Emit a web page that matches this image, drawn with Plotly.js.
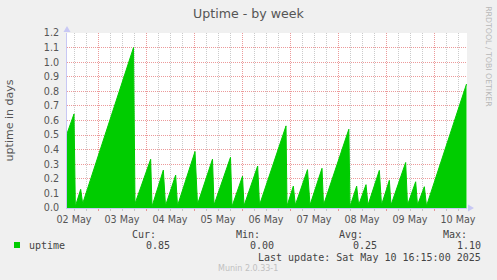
<!DOCTYPE html>
<html>
<head>
<meta charset="utf-8">
<script src="https://cdn.plot.ly/plotly-3.0.1.min.js"></script>
<style>html,body{margin:0;padding:0;background:#f0f0f0;}#chart{width:497px;height:280px;}</style>
</head>
<body>
<div id="chart"></div>
<script>
// Uptime samples (time, days)
const times = [
  '2025-05-02 08:30','2025-05-02 12:00','2025-05-02 12:40','2025-05-02 15:20','2025-05-02 16:20',
  '2025-05-03 17:45','2025-05-03 18:30','2025-05-04 02:20','2025-05-04 03:00','2025-05-04 08:40',
  '2025-05-04 09:45','2025-05-04 14:50','2025-05-04 15:45','2025-05-05 00:30','2025-05-05 01:45',
  '2025-05-05 09:15','2025-05-05 10:00','2025-05-05 18:15','2025-05-05 19:00','2025-05-06 00:15',
  '2025-05-06 01:00','2025-05-06 07:50','2025-05-06 08:45','2025-05-06 22:00','2025-05-06 22:30',
  '2025-05-07 01:40','2025-05-07 02:40','2025-05-07 08:45','2025-05-07 10:00','2025-05-07 16:00',
  '2025-05-07 16:45','2025-05-08 05:25','2025-05-08 06:00','2025-05-08 09:20','2025-05-08 10:20',
  '2025-05-08 14:00','2025-05-08 15:00','2025-05-08 20:40','2025-05-08 21:45','2025-05-09 01:40',
  '2025-05-09 02:30','2025-05-09 09:50','2025-05-09 10:45','2025-05-09 14:50','2025-05-09 15:45',
  '2025-05-09 19:10','2025-05-09 20:15','2025-05-10 16:15'
];
const uptime = [
  0.51,0.645,0.01,0.128,0.03,
  1.10,0.03,0.334,0.01,0.26,
  0.015,0.226,0.015,0.387,0.025,
  0.335,0.02,0.348,0.01,0.218,
  0.015,0.288,0.02,0.563,0.014,
  0.15,0.02,0.263,0.02,0.272,
  0.02,0.54,0.01,0.15,0.02,
  0.16,0.02,0.258,0.02,0.19,
  0.02,0.312,0.02,0.18,0.02,
  0.146,0.014,0.85
];
const seriesName = 'uptime';
const statLabels = ['Cur:', 'Min:', 'Avg:', 'Max:'];
const statValues = ['0.85', '0.00', '0.25', '1.10'];
const lastUpdate = 'Last update: Sat May 10 16:15:00 2025';
const xRange = ['2025-05-02 08:30', '2025-05-10 16:30'];
const yRange = [0, 1.2];

const GREEN = '#00CC00';
const MGRID = 'rgba(230,120,120,0.75)';
const GRID = 'rgba(185,185,185,0.75)';
const AXIS = '#c8c8f4';

const trace = {
  x: times, y: uptime, type: 'scatter', mode: 'lines',
  fill: 'tozeroy', fillcolor: GREEN,
  line: {color: GREEN, width: 1},
  name: seriesName, showlegend: false, hoverinfo: 'skip'
};

const statX = [0.228, 0.4875, 0.745, 1.0058];
const valX = [0.2625, 0.5225, 0.78075, 1.03925];
const mono = {family: 'DejaVu Sans Mono', size: 10, color: '#444'};
const annotations = [];
statLabels.forEach((s, i) => annotations.push({
  text: s, xref: 'paper', yref: 'paper', x: statX[i], y: -0.1486,
  xanchor: 'right', yanchor: 'middle', showarrow: false, font: mono
}));
statValues.forEach((s, i) => annotations.push({
  text: s, xref: 'paper', yref: 'paper', x: valX[i], y: -0.2154,
  xanchor: 'right', yanchor: 'middle', showarrow: false, font: mono
}));
annotations.push({text: seriesName, xref: 'paper', yref: 'paper', x: -0.10075, y: -0.2154,
  xanchor: 'left', yanchor: 'middle', showarrow: false, font: mono});
annotations.push({text: lastUpdate, xref: 'paper', yref: 'paper', x: 1.03925, y: -0.2817,
  xanchor: 'right', yanchor: 'middle', showarrow: false, font: mono});
annotations.push({text: 'Munin 2.0.33-1', xref: 'paper', yref: 'paper', x: 0.4525, y: -0.3446,
  xanchor: 'center', yanchor: 'middle', showarrow: false,
  font: {family: 'DejaVu Sans', size: 8, color: '#c0c0c0'}});
annotations.push({text: 'RRDTOOL / TOBI OETIKER', xref: 'paper', yref: 'paper', x: 1.05325, y: 0.8657,
  xanchor: 'center', yanchor: 'middle', showarrow: false, textangle: 90,
  font: {family: 'DejaVu Sans', size: 7.8, color: '#b8b8b8'}});

const shapes = [
  {type: 'rect', xref: 'paper', yref: 'paper', x0: -0.1325, x1: -0.1175, y0: -0.2286, y1: -0.1943,
   fillcolor: GREEN, line: {width: 0}},
  // axis arrows
  {type: 'path', xref: 'paper', yref: 'paper', xsizemode: 'pixel', ysizemode: 'pixel',
   xanchor: 1, yanchor: 0, path: 'M 1,-3.5 L 7,0 L 1,3.5 Z', fillcolor: AXIS, line: {width: 0}},
  {type: 'path', xref: 'paper', yref: 'paper', xsizemode: 'pixel', ysizemode: 'pixel',
   xanchor: 0, yanchor: 1, path: 'M -3.5,1 L 0,7 L 3.5,1 Z', fillcolor: AXIS, line: {width: 0}}
];

const layout = {
  width: 497, height: 280,
  paper_bgcolor: '#f0f0f0', plot_bgcolor: '#ffffff',
  margin: {l: 67, r: 30, t: 33, b: 72},
  font: {family: 'DejaVu Sans', size: 9.6, color: '#555'},
  title: {text: 'Uptime - by week', xref: 'container', yref: 'container', x: 0.5, y: 0.95,
          xanchor: 'center', yanchor: 'middle', font: {family: 'DejaVu Sans', size: 12.6, color: '#555'}},
  xaxis: {
    type: 'date', range: xRange, tick0: '2025-05-02', dtick: 86400000,
    tickformat: '%d %b', ticklabelmode: 'period',
    showgrid: true, gridcolor: MGRID, griddash: '1px,1px', gridwidth: 1,
    ticks: 'outside', ticklen: 2, tickcolor: MGRID,
    minor: {dtick: 6 * 3600000, tick0: '2025-05-02', showgrid: true, gridcolor: GRID,
            griddash: '1px,1px', gridwidth: 1, ticks: 'outside', ticklen: 2, tickcolor: GRID},
    showline: true, linecolor: AXIS, linewidth: 1, zeroline: false,
    tickfont: {family: 'DejaVu Sans', size: 9.6, color: '#555'}
  },
  yaxis: {
    range: yRange, dtick: 0.1, tick0: 0, tickformat: '.1f',
    showgrid: true, gridcolor: MGRID, griddash: '1px,1px', gridwidth: 1,
    ticks: '', ticklabelstandoff: 5,
    showline: true, linecolor: AXIS, linewidth: 1, zeroline: false,
    tickfont: {family: 'DejaVu Sans', size: 9.6, color: '#555'},
    title: {text: 'uptime in days', standoff: 27, font: {family: 'DejaVu Sans', size: 11, color: '#555'}}
  },
  annotations: annotations,
  shapes: shapes,
  showlegend: false
};

Plotly.newPlot('chart', [trace], layout, {staticPlot: true, displayModeBar: false});
</script>
</body>
</html>
